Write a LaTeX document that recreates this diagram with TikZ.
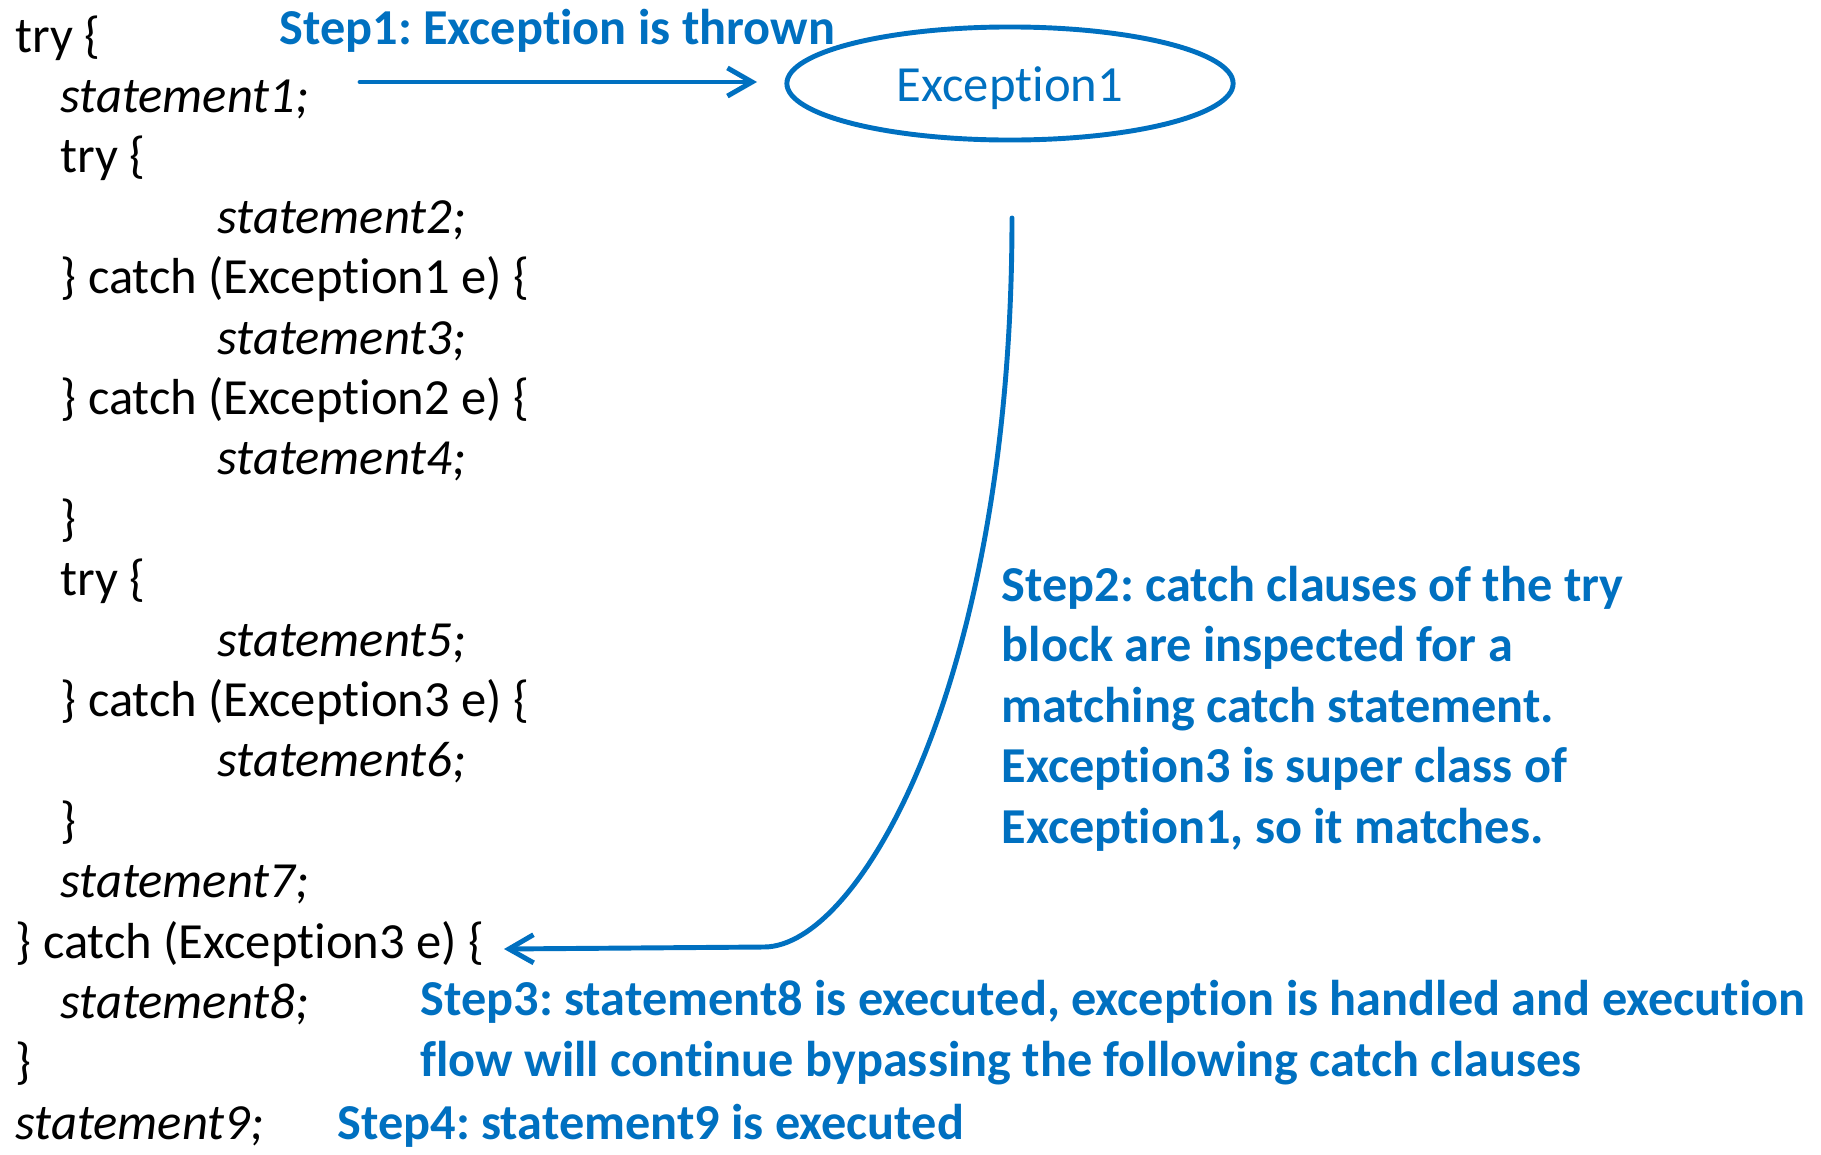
\documentclass[tikz,border=0pt]{standalone}
\usepackage{fontspec}
\setmainfont{Carlito}[Ligatures=CommonOff]
\usetikzlibrary{shapes.geometric,arrows.meta}
\definecolor{stepblue}{HTML}{0070C0}
\frenchspacing
\begin{document}
\begin{tikzpicture}[x=0.01cm,y=-0.01cm]
		\tikzset{code/.style = {anchor=base west,inner sep=0pt,font=\fontsize{14.4}{17}\selectfont}}
		\tikzset{stmt/.style = {code,font=\fontsize{14.4}{17}\selectfont\itshape}}
		\tikzset{note/.style = {anchor=base west,inner sep=0pt,align=left,text=stepblue,font=\fontsize{14.3}{17.2}\selectfont\bfseries}}
		\tikzset{exc/.style = {shape=ellipse,draw=stepblue,line width=1.4pt,minimum width=4.46cm,minimum height=1.13cm,text=stepblue,font=\fontsize{14.4}{17}\selectfont}}
		\tikzset{flow/.style = {-{Straight Barb[length=7pt,width=8pt]},draw=stepblue,line width=1.4pt,line cap=round}}
		\useasboundingbox (0,0) rectangle (1821,1154);
		\node[code] (l1)  at (15,52)     {try \{};
		\node[stmt] (l2)  at (60,112.4)  {statement1;};
		\node[code] (l3)  at (60,172.8)  {try \{};
		\node[stmt] (l4)  at (217,233.2) {statement2;};
		\node[code] (l5)  at (60,293.6)  {\} catch (Exception1 e) \{};
		\node[stmt] (l6)  at (217,354)   {statement3;};
		\node[code] (l7)  at (60,414.4)  {\} catch (Exception2 e) \{};
		\node[stmt] (l8)  at (217,474.8) {statement4;};
		\node[code] (l9)  at (60,535.2)  {\}};
		\node[code] (l10) at (60,595.6)  {try \{};
		\node[stmt] (l11) at (217,656)   {statement5;};
		\node[code] (l12) at (60,716.4)  {\} catch (Exception3 e) \{};
		\node[stmt] (l13) at (217,776.8) {statement6;};
		\node[code] (l14) at (60,837.2)  {\}};
		\node[stmt] (l15) at (60,897.6)  {statement7;};
		\node[code] (l16) at (15,958)    {\} catch (Exception3 e) \{};
		\node[stmt] (l17) at (60,1018.4) {statement8;};
		\node[code] (l18) at (15,1078.8) {\}};
		\node[stmt] (l19) at (15,1139.2) {statement9;};
		\node[exc] (thrown) at (1010,83.5) {\raisebox{-5pt}[0pt][0pt]{Exception1}};
		\node[note] (step1) at (279,44)   {Step1: Exception is thrown};
		\node[note] (step2) at (1001,843.4) {Step2: catch clauses of the try\\block are inspected for a\\matching catch statement.\\Exception3 is super class of\\Exception1, so it matches.};
		\node[note] (step3) at (420,1076.4) {Step3: statement8 is executed, exception is handled and execution\\flow will continue bypassing the following catch clauses};
		\node[note] (step4) at (337,1139) {Step4: statement9 is executed};
		\coordinate (throwfrom) at (360,82);
		\coordinate (throwto) at (757,82);
		\coordinate (searchfrom) at (1012,218);
		\coordinate (bend) at (764,947);
		\coordinate (caught) at (504,949);
		\path[flow] (throwfrom) -- (throwto);
		\path[flow] (searchfrom) .. controls (1012,680) and (860,947) .. (bend) -- (caught);
	\end{tikzpicture}
\end{document}
